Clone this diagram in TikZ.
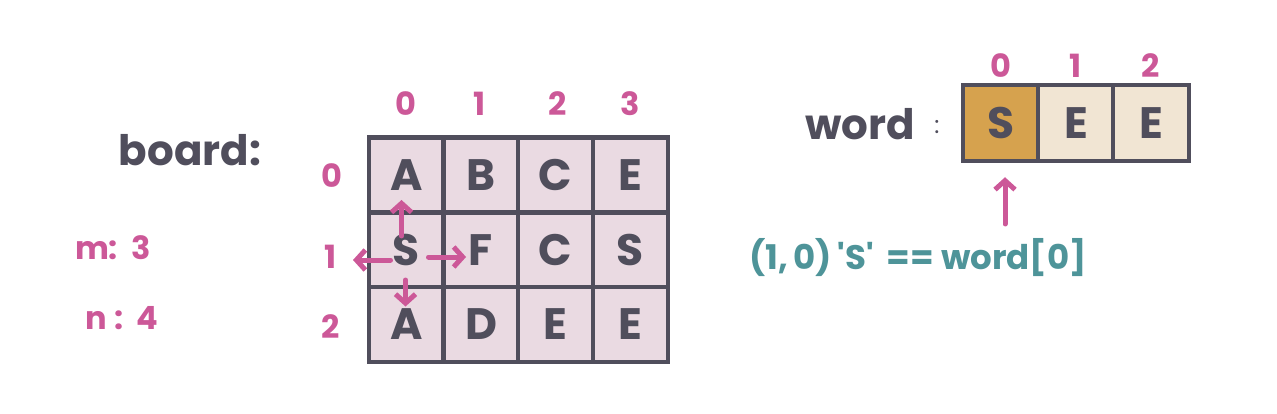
\documentclass[tikz,border=0pt]{standalone}
\usepackage{fontspec}
\setmainfont{Poppins}
\usetikzlibrary{arrows.meta}

\definecolor{inkgrey}{RGB}{80,78,92}
\definecolor{idxpink}{RGB}{204,88,152}
\definecolor{cellpink}{RGB}{234,218,226}
\definecolor{wordorange}{RGB}{214,162,78}
\definecolor{wordbeige}{RGB}{241,229,211}
\definecolor{noteteal}{RGB}{78,148,153}

\tikzset{
  cell/.style={draw=inkgrey, line width=4.5pt, fill=cellpink, minimum width=75pt, minimum height=75pt,
    inner sep=0pt, text=inkgrey, font=\fontsize{44}{44}\selectfont\bfseries},
  wcell/.style={cell, fill=wordbeige, minimum width=76pt, minimum height=76pt},
  idx/.style={text=idxpink, inner sep=0.75pt, font=\fontsize{32}{32}\selectfont\bfseries},
  hop/.style={draw=idxpink, line width=5pt, line cap=round, line join=round,
    -{Straight Barb[length=9pt,width=20pt,line width=5pt]}},
}

\begin{document}
\begin{tikzpicture}[x=1pt,y=1pt,yscale=-1,xscale=1]
\useasboundingbox (0,0) rectangle (1277,414);

% Text Node
\node [text=inkgrey, font=\fontsize{42}{42}\selectfont\bfseries, inner sep=0.75pt] (board) at (190,150) {board:};
% Text Node
\node [idx] (mval) at (113,248) {m:\ \ 3};
% Text Node
\node [idx] (nval) at (122,318) {n\ :\ \ 4};

% board cells
\node [cell] (c00) at (406.5,175) {A};
\node [cell] (c01) at (481,175) {B};
\node [cell] (c02) at (555.5,175) {C};
\node [cell] (c03) at (630.5,175) {E};
\node [cell] (c10) at (406.5,250) {S};
\node [cell] (c11) at (481,250) {F};
\node [cell] (c12) at (555.5,250) {C};
\node [cell] (c13) at (630.5,250) {S};
\node [cell] (c20) at (406.5,324.5) {A};
\node [cell] (c21) at (481,324.5) {D};
\node [cell] (c22) at (555.5,324.5) {E};
\node [cell] (c23) at (630.5,324.5) {E};

% column and row indices
\node [idx] (col0) at (406,104) {0};
\node [idx] (col1) at (480,104) {1};
\node [idx] (col2) at (558,104) {2};
\node [idx] (col3) at (630,104) {3};
\node [idx] (row0) at (332,176) {0};
\node [idx] (row1) at (331,257) {1};
\node [idx] (row2) at (331,327) {2};

% neighbours of S
\coordinate (west) at (353,260);
\draw [hop] ([xshift=-5pt,yshift=-14pt]c10.center) -- ([xshift=-5pt,yshift=25pt]c00.center);
\draw [hop] ([xshift=-16pt,yshift=10pt]c10.center) -- (west);
\draw [hop] ([xshift=22pt,yshift=7pt]c10.center) -- ([xshift=-15pt,yshift=7pt]c11.center);
\draw [hop] ([xshift=-1pt,yshift=30pt]c10.center) -- ([xshift=-1pt,yshift=-18pt]c20.center);

% Text Node
\node [text=inkgrey, font=\fontsize{42}{42}\selectfont\bfseries, inner sep=0.75pt] (wordlbl) at (860,124) {word};
% Text Node
\node [text=inkgrey, font=\fontsize{24}{24}\selectfont, inner sep=0.75pt] (colon) at (937,127) {:};

% word cells
\node [wcell, fill=wordorange] (w0) at (1001,123) {S};
\node [wcell] (w1) at (1076,123) {E};
\node [wcell] (w2) at (1151,123) {E};
\node [idx] (wi0) at (1001,66) {0};
\node [idx] (wi1) at (1076,66) {1};
\node [idx] (wi2) at (1151,66) {2};

% Text Node
\node [text=noteteal, font=\fontsize{34}{34}\selectfont\bfseries, inner sep=0.75pt] (match) at (918,258) {(1,\,0)\,\textquotesingle S\textquotesingle\, == word[0]};
\coordinate (mt) at (1005,224);
\draw [hop] (mt) -- ([xshift=4pt,yshift=14pt]w0.south);

\end{tikzpicture}
\end{document}
